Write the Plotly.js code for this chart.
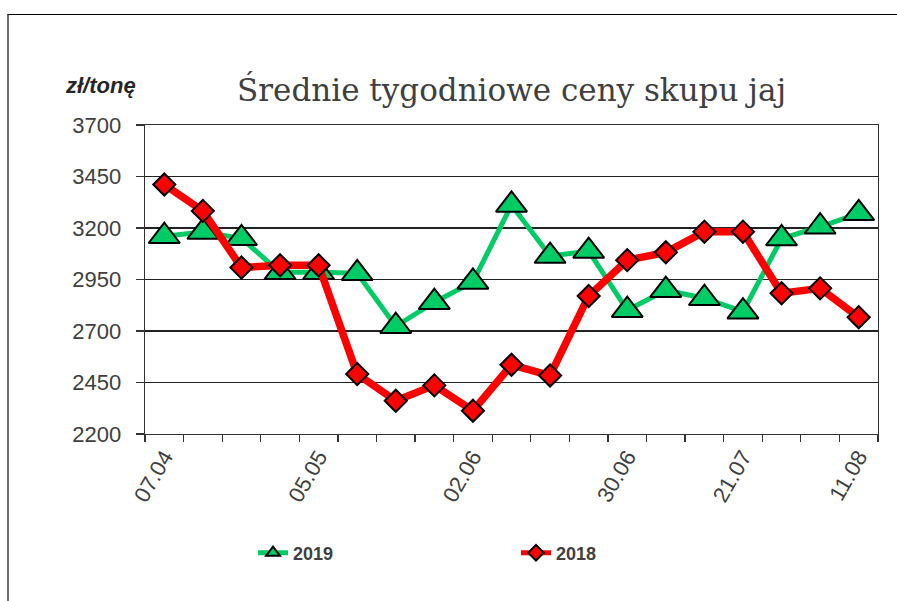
<!DOCTYPE html>
<html>
<head>
<meta charset="utf-8">
<script src="https://cdn.plot.ly/plotly-3.0.1.min.js"></script>
<style>
  html, body { margin: 0; padding: 0; background: #fff; }
  #chart { width: 897px; height: 601px; position: relative; }
  #frame { position: absolute; left: 7px; top: 14px; width: 900px; height: 600px;
           border-top: 1px solid #000; border-left: 2px solid #6b6b6b; pointer-events: none; }
</style>
</head>
<body>
<div id="chart"></div>
<div id="frame"></div>
<script>
// Weekly categories (dd.mm)
const weeks = ['07.04','14.04','21.04','28.04','05.05','12.05','19.05','26.05','02.06','09.06',
               '16.06','23.06','30.06','07.07','14.07','21.07','28.07','04.08','11.08'];
// Tick labels shown on the category axis
const shownTicks = ['07.04','05.05','02.06','30.06','21.07','11.08'];
// Series values (zł/tonę)
const values2019 = [3160, 3180, 3150, 2985, 2985, 2980, 2723, 2840, 2938, 3312,
                    3064, 3088, 2801, 2898, 2859, 2794, 3149, 3206, 3271];
const values2018 = [3411, 3283, 3008, 3019, 3019, 2491, 2361, 2436, 2313, 2536,
                    2484, 2870, 3044, 3082, 3182, 3182, 2883, 2907, 2767];
const seriesNames = ['2019', '2018'];
const titleText = 'Średnie tygodniowe ceny skupu jaj';
const unitText = '<i><b>zł/tonę</b></i>';

const tickText = weeks.map(w => shownTicks.includes(w) ? w : '');

const traces = [
  {
    x: weeks, y: values2019, name: seriesNames[0], type: 'scatter', mode: 'lines+markers',
    line: { color: '#00CC66', width: 5 },
    marker: { symbol: 'triangle-up', size: 27, color: '#00CC66',
              line: { color: '#000', width: 2 } }
  },
  {
    x: weeks, y: values2018, name: seriesNames[1], type: 'scatter', mode: 'lines+markers',
    line: { color: '#FF0000', width: 7.5 },
    marker: { symbol: 'diamond', size: 17, color: '#FF0000',
              line: { color: '#000', width: 2 } }
  }
];

const layout = {
  width: 897, height: 601,
  margin: { l: 145, r: 19, t: 125, b: 167 },
  paper_bgcolor: '#fff', plot_bgcolor: '#fff',
  font: { family: 'Arial, "Liberation Sans", sans-serif', color: '#404040' },
  title: {
    text: titleText, xref: 'paper', x: 0.5, xanchor: 'center',
    yref: 'container', y: 1 - 90 / 601, yanchor: 'middle',
    font: { family: '"DejaVu Serif", serif', size: 31, color: '#404040' }
  },
  xaxis: {
    type: 'category', range: [-0.5, 18.5],
    tickmode: 'array', tickvals: weeks, ticktext: tickText,
    tickson: 'boundaries', ticks: 'outside', ticklen: 7, tickwidth: 1.3, tickcolor: '#333',
    tickangle: -60, tickfont: { size: 22, color: '#404040' },
    showline: true, linecolor: '#333', linewidth: 1.3, mirror: true,
    showgrid: false, zeroline: false, fixedrange: true
  },
  yaxis: {
    range: [2200, 3700], tickmode: 'linear', tick0: 2200, dtick: 250,
    ticks: 'outside', ticklen: 8, tickwidth: 1.3, tickcolor: '#333',
    tickfont: { size: 22, color: '#404040' }, ticklabelstandoff: 10,
    showline: true, linecolor: '#333', linewidth: 1.3, mirror: true,
    showgrid: true, gridcolor: '#222', gridwidth: 1.3, zeroline: false, fixedrange: true
  },
  showlegend: true,
  legend: {
    orientation: 'h', x: (253 - 145) / 733, xanchor: 'left',
    y: (434 - 553) / 309, yanchor: 'middle',
    entrywidth: 218, entrywidthmode: 'pixels',
    itemsizing: 'constant',
    font: { family: 'Arial, "Liberation Sans", sans-serif', size: 18, color: '#404040', weight: 'bold' },
    bgcolor: 'rgba(0,0,0,0)'
  },
  annotations: [{
    text: unitText, xref: 'paper', yref: 'paper', x: 0, y: 1,
    xanchor: 'right', yanchor: 'bottom', xshift: -7, yshift: 25, showarrow: false,
    font: { family: 'Arial, "Liberation Sans", sans-serif', size: 22, color: '#262626' }
  }]
};

Plotly.newPlot('chart', traces, layout, { displayModeBar: false, staticPlot: true });
</script>
</body>
</html>
